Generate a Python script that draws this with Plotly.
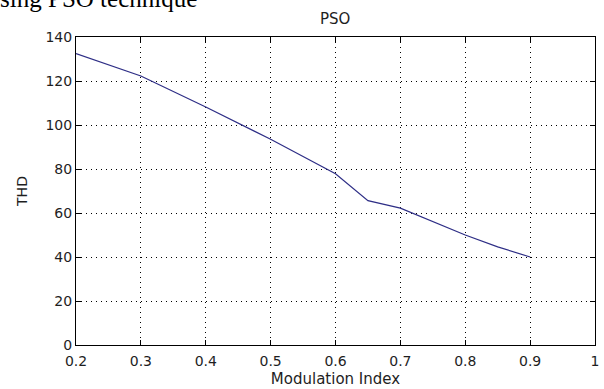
import plotly.graph_objects as go

modulation_index = [0.2, 0.3, 0.4, 0.5, 0.6, 0.65, 0.7, 0.8, 0.85, 0.9]
thd = [132.5, 122.3, 108.2, 93.5, 77.8, 65.6, 62.2, 50.0, 44.6, 40.0]
x_ticks = [0.2, 0.3, 0.4, 0.5, 0.6, 0.7, 0.8, 0.9, 1.0]
x_tick_labels = ["0.2", "0.3", "0.4", "0.5", "0.6", "0.7", "0.8", "0.9", "1"]
y_ticks = [0, 20, 40, 60, 80, 100, 120, 140]

FONT = "DejaVu Sans"
TXT = "#1e1e1e"

fig = go.Figure()
fig.add_trace(go.Scatter(x=modulation_index, y=thd, mode="lines",
                         line=dict(color="#2e2e86", width=1.2),
                         showlegend=False, hoverinfo="skip"))

axis_common = dict(
    showline=True, linecolor="#000", linewidth=1, mirror="ticks",
    ticks="inside", ticklen=5, tickcolor="#000", tickwidth=1,
    showgrid=True, gridcolor="#000", gridwidth=1, griddash="1px,4px",
    zeroline=False, automargin=False,
    tickfont=dict(family=FONT, size=14, color=TXT),
)

fig.update_xaxes(range=[0.2, 1.0], tickvals=x_ticks, ticktext=x_tick_labels,
                 ticklabelstandoff=3,
                 title=dict(text="Modulation Index", font=dict(family=FONT, size=15, color=TXT), standoff=5),
                 **axis_common)
fig.update_yaxes(range=[0, 140], tickvals=y_ticks,
                 title=dict(text="THD", font=dict(family=FONT, size=14, color=TXT), standoff=14),
                 **axis_common)

fig.update_layout(
    width=604, height=389,
    margin=dict(l=76, r=9, t=37, b=44),
    paper_bgcolor="white", plot_bgcolor="white",
    title=dict(text="PSO", x=0.555, xanchor="center", y=1 - 19 / 389, yanchor="middle",
               font=dict(family=FONT, size=15, color=TXT)),
    annotations=[dict(text="Using PSO technique", xref="paper", yref="paper",
                      x=-0.185, y=1.125, xanchor="left", yanchor="middle",
                      showarrow=False,
                      font=dict(family="Liberation Serif", size=25, color="#000"))],
)

fig.write_html("out.html")
